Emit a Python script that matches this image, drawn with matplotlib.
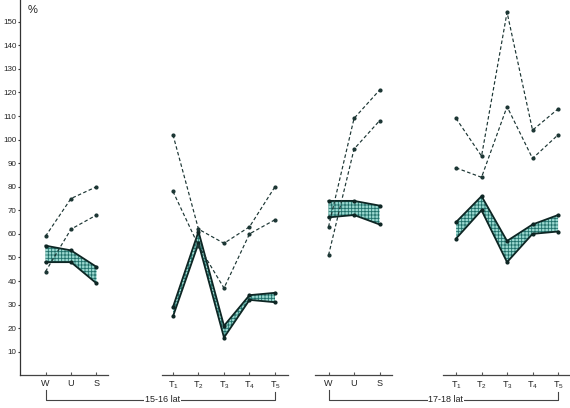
import matplotlib
matplotlib.use("Agg")
import matplotlib.pyplot as plt
import matplotlib.transforms as mtransforms

plt.rcParams['font.family'] = ['Liberation Sans Narrow', 'Liberation Sans', 'DejaVu Sans']
plt.rcParams['mathtext.default'] = 'regular'
plt.rcParams['hatch.linewidth'] = 0.6

# ---- data ----
cats_wus = ['W', 'U', 'S']
cats_t = ['T$_1$', 'T$_2$', 'T$_3$', 'T$_4$', 'T$_5$']
yticks = [10, 20, 30, 40, 50, 60, 70, 80, 90, 100, 110, 120, 130, 140, 150]

g1_dash_a = [59, 75, 80]
g1_dash_b = [44, 62, 68]
g1_top = [55, 53, 46]
g1_bot = [48, 48, 39]

g2_dash_a = [102, 62, 56, 63, 80]
g2_dash_b = [78, 55, 37, 60, 66]
g2_top = [29, 61, 21, 34, 35]
g2_bot = [25, 56, 16, 32, 31]

g3_dash_a = [63, 109, 121]
g3_dash_b = [51, 96, 108]
g3_top = [74, 74, 72]
g3_bot = [67, 68, 64]

g4_dash_a = [109, 93, 154, 104, 113]
g4_dash_b = [88, 84, 114, 92, 102]
g4_top = [65, 76, 57, 64, 68]
g4_bot = [58, 70, 48, 60, 61]

age_labels = ['15-16 lat', '17-18 lat']

# ---- layout ----
W, H = 570, 408
fig = plt.figure(figsize=(W / 100, H / 100), dpi=100)
ax = fig.add_axes([20 / W, 32.7 / H, 550 / W, 375.3 / H])
ax.set_xlim(0, 550 / 25.5)
ax.set_ylim(0, 375.3 / 2.357)

group_start = [1.0, 6.0, 12.1, 17.1]
groups = [
    (cats_wus, g1_dash_a, g1_dash_b, g1_top, g1_bot),
    (cats_t, g2_dash_a, g2_dash_b, g2_top, g2_bot),
    (cats_wus, g3_dash_a, g3_dash_b, g3_top, g3_bot),
    (cats_t, g4_dash_a, g4_dash_b, g4_top, g4_bot),
]

line_col = '#1b3533'
band_edge = '#0e2624'
hatch_col = '#1f6f69'
face_col = '#9ad8cf'

all_x = []
all_lab = []
for start, (cats, da, db, top, bot) in zip(group_start, groups):
    xs = [start + i for i in range(len(cats))]
    all_x += xs
    all_lab += cats
    ax.fill_between(xs, bot, top, facecolor=face_col, edgecolor=hatch_col,
                    hatch='+++++', linewidth=0, zorder=2)
    ax.plot(xs, top, color=band_edge, lw=1.3, marker='o', ms=2, zorder=3)
    ax.plot(xs, bot, color=band_edge, lw=1.3, marker='o', ms=2, zorder=3)
    for d in (da, db):
        ax.plot(xs, d, color=line_col, lw=0.85, ls=(0, (3.0, 2.0)),
                marker='o', ms=2, zorder=4)

# spines
for s in ['top', 'right', 'bottom']:
    ax.spines[s].set_visible(False)
ax.spines['left'].set_color('#333333')
ax.spines['left'].set_linewidth(0.9)

ax.set_yticks(yticks)
ax.set_yticklabels([str(v) for v in yticks])
ax.tick_params(axis='y', direction='out', length=1.5, width=0.8, labelsize=5.8,
               pad=1, colors='#333333', labelcolor='#222222')

ax.set_xticks(all_x)
ax.set_xticklabels(all_lab)
ax.tick_params(axis='x', direction='in', length=2, width=0.8, labelsize=6.5,
               pad=3, colors='#555555', labelcolor='#222222')

# broken x-axis segments
trans = mtransforms.blended_transform_factory(ax.transData, ax.transAxes)
segs = [(0.0, 3.45), (5.57, 10.5), (11.57, 14.59), (16.6, 550 / 25.5)]
for a, b in segs:
    ax.plot([a, b], [0, 0], color='#444444', lw=0.9, transform=trans,
            clip_on=False, zorder=1)

# brackets for age groups
y_top = (408 - 390 - 32.7) / 375.3
y_bot = (408 - 400 - 32.7) / 375.3
y_top2 = (408 - 392 - 32.7) / 375.3
brackets = [(group_start[0], group_start[1] + 4), (group_start[2], group_start[3] + 4)]
for (a, b), lab in zip(brackets, age_labels):
    ax.plot([a, a, b, b], [y_top, y_bot, y_bot, y_top2], color='#444444',
            lw=0.8, transform=trans, clip_on=False)
    ax.text((a + b) / 2 + 0.1, y_bot, lab, transform=trans, ha='center',
            va='center', fontsize=6.5, color='#222222',
            bbox=dict(facecolor='white', edgecolor='none', pad=0.6))

ax.text(28 / W, 1 - 10 / H, '%', transform=fig.transFigure, ha='left',
        va='center', fontsize=8, color='#222222')

fig.savefig('out.png', dpi=100)
